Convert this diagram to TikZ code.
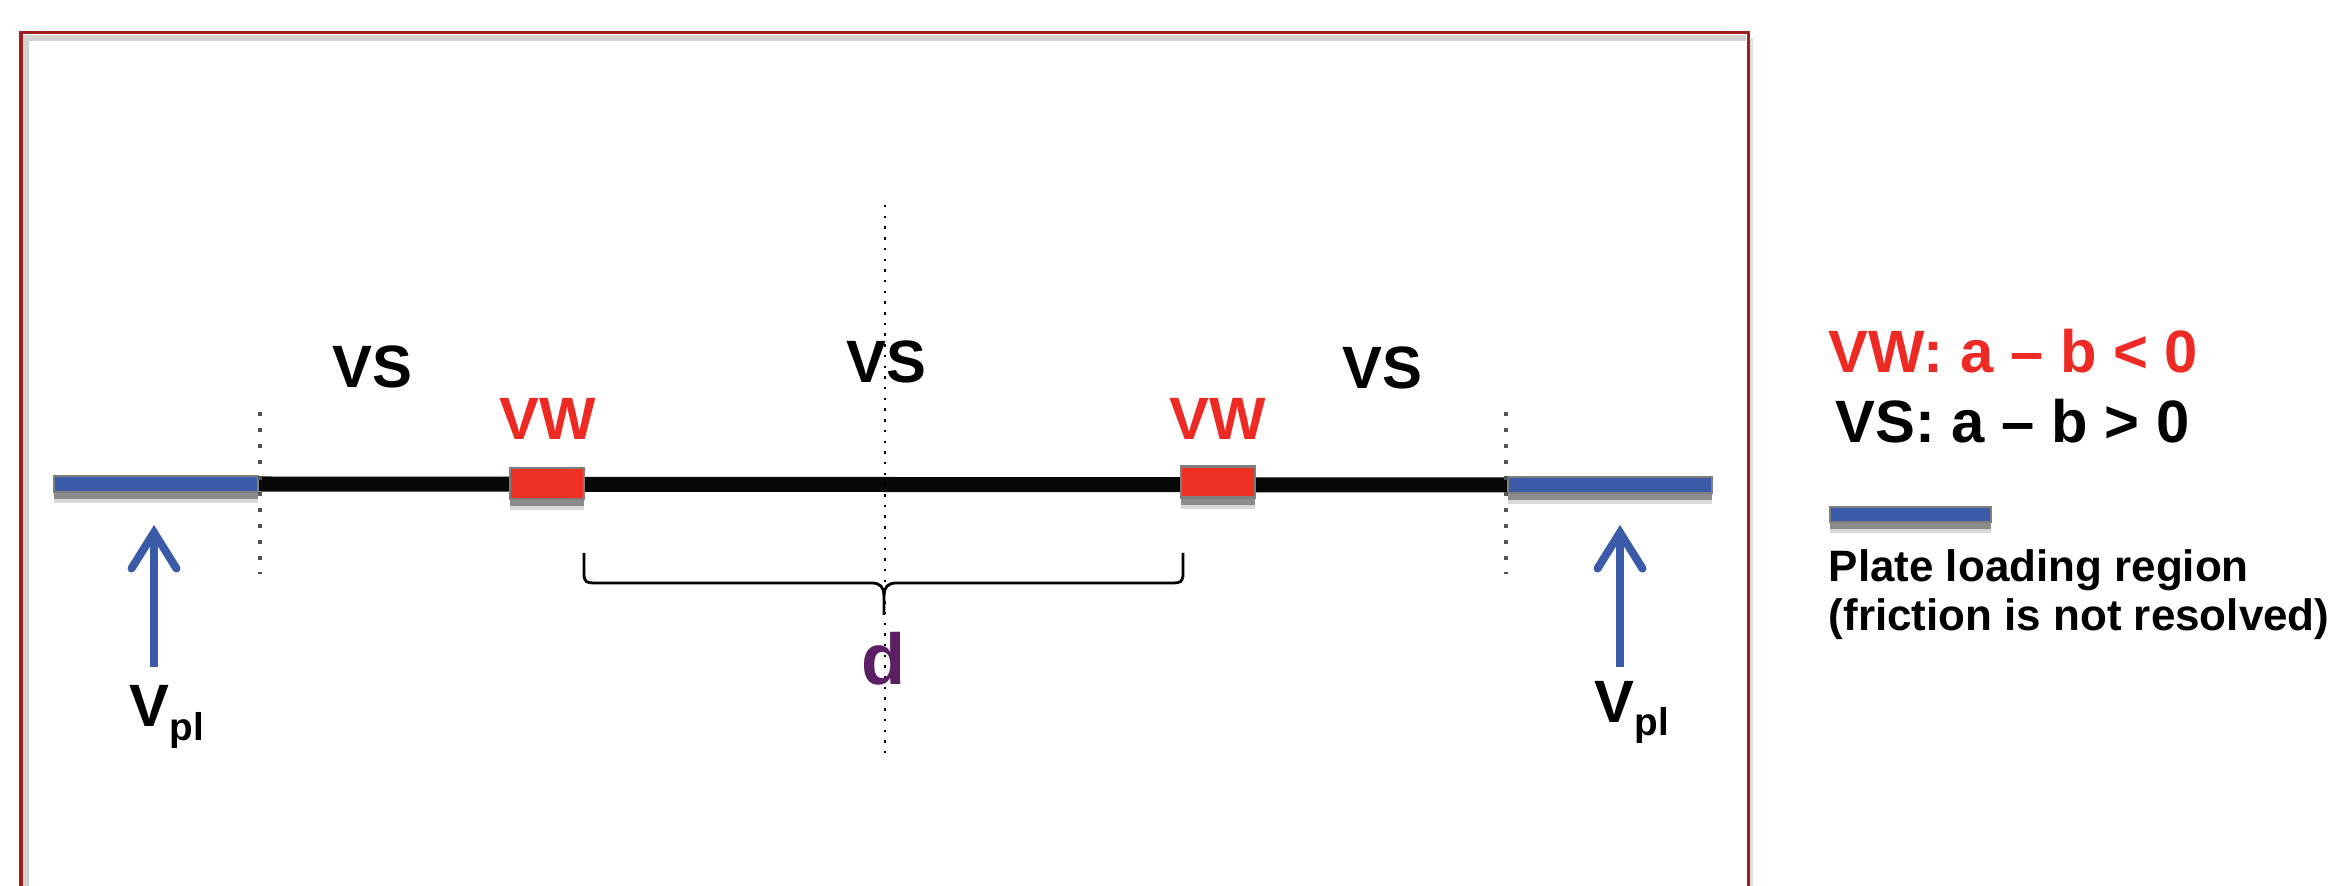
\documentclass[tikz,border=0pt]{standalone}
\usepackage{fontspec}
\setmainfont{Liberation Sans}
\usetikzlibrary{arrows.meta}
\definecolor{vwred}{HTML}{EE2A24}
\definecolor{boxred}{HTML}{EE3124}
\definecolor{plblue}{HTML}{3B5BA9}
\definecolor{dpurple}{HTML}{5C1F63}
\definecolor{framered}{HTML}{A0201E}
\definecolor{edgegray}{HTML}{7F7F7F}
\definecolor{dotgray}{HTML}{555555}
\tikzset{
  big/.style={inner sep=0pt, anchor=base, font=\fontsize{17}{17}\selectfont\bfseries},
  small/.style={inner sep=0pt, anchor=base west, font=\fontsize{12.5}{12.5}\selectfont\bfseries},
  shadowed/.style={preaction={draw=none, fill=black!15, transform canvas={yshift=-0.11cm}},
                   preaction={draw=none, fill=black!45, transform canvas={yshift=-0.07cm}}},
  platebar/.style={shadowed, fill=plblue, draw=edgegray, line width=0.6pt, inner sep=0pt, minimum height=0.16cm},
  vwbox/.style={shadowed, fill=boxred, draw=edgegray, line width=0.6pt, inner sep=0pt, minimum width=0.74cm, minimum height=0.31cm},
  beam/.style={line width=0.15cm, black!97},
  sidedots/.style={dotgray, line width=0.04cm, dash pattern=on 0.04cm off 0.12cm},
  middots/.style={black, line width=0.025cm, dash pattern=on 0.025cm off 0.082cm},
  bracepath/.style={black, line width=0.028cm, line join=round},
  vplarrow/.style={plblue, line width=0.08cm, -{Straight Barb[length=0.36cm, width=0.45cm, line cap=round]}},
  vpl/.style={inner sep=0pt, anchor=base west, font=\fontsize{17}{17}\selectfont\bfseries},
}
\begin{document}
\begin{tikzpicture}[x=0.01cm, y=-0.01cm]
\useasboundingbox (0,0) rectangle (2331,886);
% frame with subtle shadow
\draw[black!18, line width=0.06cm] (26,886) -- (26,38) -- (1746,38);
\draw[black!12, line width=0.04cm] (1751,38) -- (1751,886);
\draw[framered, line width=0.03cm] (21,886) -- (21,33) -- (1748,33) -- (1748,886);

% plate loading bars
\node[platebar, minimum width=2.04cm] (plateL) at (156,484) {};
\node[platebar, minimum width=2.04cm] (plateR) at (1610,485) {};
% beam
\draw[beam] (plateL.east) -- (plateR.west);
% VW patches
\node[vwbox] (boxL) at (547,483.5) {};
\node[vwbox] (boxR) at (1218,482) {};

% dotted lines
\coordinate (dLt) at (260,412); \coordinate (dLb) at (260,574);
\coordinate (dRt) at (1506,412); \coordinate (dRb) at (1506,574);
\coordinate (dMt) at (885,205); \coordinate (dMb) at (885,756);
\draw[sidedots] (dLt) -- (dLb);
\draw[sidedots] (dRt) -- (dRb);
\draw[middots] (dMt) -- (dMb);

% brace
\draw[bracepath] (584,553) -- (584,574) .. controls (584,582) and (587,583) .. (594,583)
  -- (872,583) .. controls (880,583) and (884,587) .. (884,596) -- (884,615);
\draw[bracepath] (1183,553) -- (1183,574) .. controls (1183,582) and (1180,583) .. (1173,583)
  -- (896,583) .. controls (888,583) and (884,587) .. (884,596);
\node[inner sep=0pt, anchor=base, text=dpurple, font=\fontsize{20.5}{20.5}\selectfont\bfseries] (d) at (884,685) {d};

% labels
\node[big] (vsL) at (372,388) {VS};
\node[big] (vsM) at (886,383) {VS};
\node[big] (vsR) at (1382,389) {VS};
\node[big, text=vwred] (vwL) at (548,440) {VW};
\node[big, text=vwred] (vwR) at (1218,440) {VW};

% plate velocity arrows
\coordinate (aLs) at (154,667); \coordinate (aLt) at (154,525);
\coordinate (aRs) at (1620,667); \coordinate (aRt) at (1620,525);
\draw[vplarrow] (aLs) -- (aLt);
\draw[vplarrow] (aRs) -- (aRt);
\node[vpl] (vplL) at (129,727) {V\raisebox{-0.13cm}{\fontsize{11}{11}\selectfont pl}};
\node[vpl] (vplR) at (1594,722) {V\raisebox{-0.13cm}{\fontsize{11}{11}\selectfont pl}};

% legend
\node[big, anchor=base west, text=vwred] (leg1) at (1828,373) {VW: a -- b < 0};
\node[big, anchor=base west] (leg2) at (1835,443) {VS: a -- b > 0};
\node[platebar, minimum width=1.61cm, minimum height=0.15cm] (legbar) at (1910.5,514.5) {};
\node[small] (leg3) at (1828,582) {Plate loading region};
\node[small] (leg4) at (1828,631) {(friction is not resolved)};
\end{tikzpicture}
\end{document}
